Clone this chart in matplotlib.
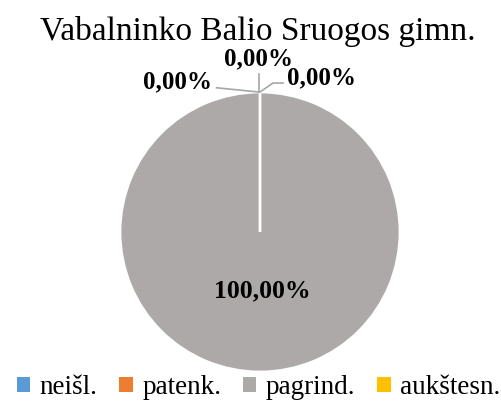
import numpy as np
import matplotlib.pyplot as plt
from matplotlib.patches import Patch

plt.rcParams['font.family'] = ['Liberation Serif', 'DejaVu Serif']

title = 'Vabalninko Balio Sruogos gimn.'
categories = ['neišl.', 'patenk.', 'pagrind.', 'aukštesn.']
values = [0.0, 0.0, 100.0, 0.0]
colors = ['#5B9BD5', '#ED7D31', '#ADA9A9', '#FFC000']

fig = plt.figure(figsize=(5.02, 4.01), dpi=100)
ax = fig.add_axes([50 / 502, 1 / 401, 420 / 502, 378 / 401])

wedges, _ = ax.pie(values, colors=colors, startangle=90, counterclock=False,
                   wedgeprops=dict(edgecolor='white', linewidth=2))
ax.set_xlim(-1.5, 1.5)
ax.set_ylim(-1.2, 1.5)
ax.set_aspect('auto')

total = sum(values)
line_c = '#A6A6A6'
for i, w in enumerate(wedges):
    pct = values[i] / total * 100
    txt = f'{pct:.2f}%'.replace('.', ',')
    ang = np.deg2rad((w.theta1 + w.theta2) / 2)
    x, y = np.cos(ang), np.sin(ang)
    if values[i] == 0:
        if i == 0:
            ax.plot([x - 0.01, x - 0.31], [y, y + 0.03], color=line_c, lw=1.2)
            ax.text(x - 0.34, y + 0.07, txt, ha='right', va='center',
                    fontsize=18, fontweight='bold')
        elif i == 1:
            ax.plot([x - 0.01, x - 0.01], [y, y + 0.13], color=line_c, lw=1.2)
            ax.text(x - 0.01, y + 0.235, txt, ha='center', va='center',
                    fontsize=18, fontweight='bold')
        else:
            ax.plot([x, x + 0.093, x + 0.164], [y, y + 0.064, y + 0.064],
                    color=line_c, lw=1.2)
            ax.text(x + 0.19, y + 0.10, txt, ha='left', va='center',
                    fontsize=18, fontweight='bold')
    else:
        ax.text(0.02, -0.42, txt, ha='center', va='center',
                fontsize=18.5, fontweight='bold')

fig.text(0.514, 0.922, title, ha='center', va='center', fontsize=24)

handles = [Patch(facecolor=c, label=l) for c, l in zip(colors, categories)]
fig.legend(handles=handles, loc='center', bbox_to_anchor=(0.515, 0.033), ncol=4,
           frameon=False, fontsize=19.5, handlelength=0.5, handleheight=0.5,
           handletextpad=0.35, columnspacing=0.8, borderpad=0)

fig.savefig('out.png', dpi=100)
